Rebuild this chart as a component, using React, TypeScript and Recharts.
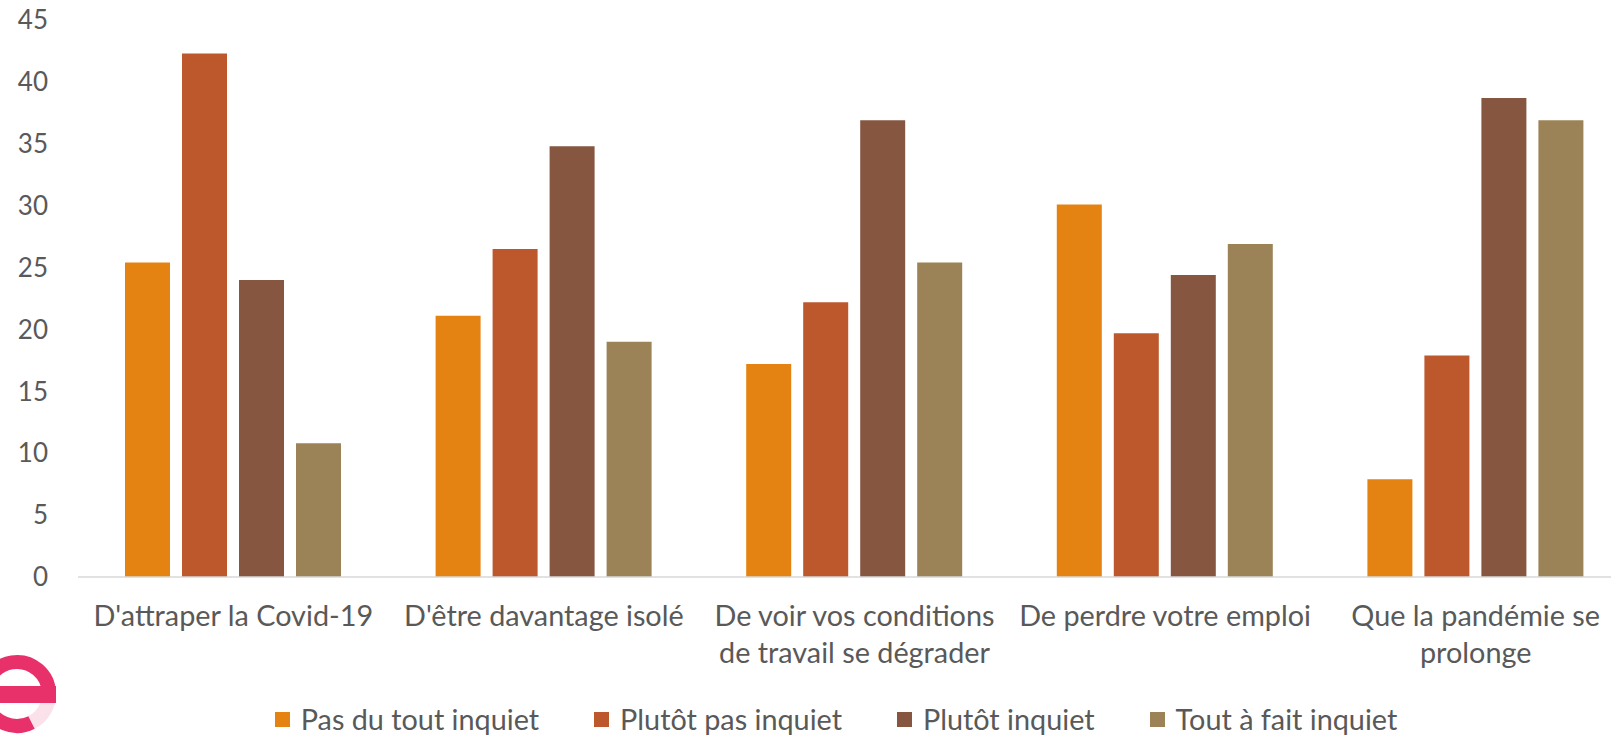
import { Bar, BarChart, Legend, XAxis, YAxis } from "recharts";

const categories = [
  "D'attraper la Covid-19",
  "D'être davantage isolé",
  "De voir vos conditions\nde travail se dégrader",
  "De perdre votre emploi",
  "Que la pandémie se\nprolonge",
];

const pasDuTout = [25.4, 21.1, 17.2, 30.1, 7.9];
const plutotPas = [42.3, 26.5, 22.2, 19.7, 17.9];
const plutot = [24.0, 34.8, 36.9, 24.4, 38.7];
const toutAFait = [10.8, 19.0, 25.4, 26.9, 36.9];

const yTicks = [0, 5, 10, 15, 20, 25, 30, 35, 40, 45];

const series = [
  { key: "pasDuTout", name: "Pas du tout inquiet", color: "#E48312" },
  { key: "plutotPas", name: "Plutôt pas inquiet", color: "#BD582C" },
  { key: "plutot", name: "Plutôt inquiet", color: "#865640" },
  { key: "toutAFait", name: "Tout à fait inquiet", color: "#9B8357" },
];

const data = categories.map((label, i) => ({
  label,
  pasDuTout: pasDuTout[i],
  plutotPas: plutotPas[i],
  plutot: plutot[i],
  toutAFait: toutAFait[i],
}));

const FONT = "Lato, 'Open Sans', sans-serif";
const TEXT = "#595959";

function CategoryTick({ x, y, payload }: any) {
  const lines = String(payload.value).split("\n");
  return (
    <text x={x} y={y} textAnchor="middle" fill={TEXT} fontSize={28.8} fontFamily={FONT}>
      {lines.map((line, i) => (
        <tspan key={i} x={x} dy={i === 0 ? 49 : 37}>
          {line}
        </tspan>
      ))}
    </text>
  );
}

function LegendContent() {
  return (
    <div
      style={{
        display: "flex",
        justifyContent: "center",
        gap: 55,
        paddingLeft: 32,
        paddingTop: 25,
        fontFamily: FONT,
        fontSize: 28.8,
        color: TEXT,
      }}
    >
      {series.map((s) => (
        <div key={s.key} style={{ display: "flex", alignItems: "center", gap: 11 }}>
          <span style={{ width: 15, height: 15, background: s.color, display: "inline-block" }} />
          <span>{s.name}</span>
        </div>
      ))}
    </div>
  );
}

// logo "e" in the bottom-left corner, partly cut by the frame
function Logo() {
  const cx = 17;
  const cy = 694;
  const r = 32;
  const pt = (deg: number) => {
    const a = (deg * Math.PI) / 180;
    return `${cx + r * Math.cos(a)} ${cy + r * Math.sin(a)}`;
  };
  return (
    <svg width={80} height={100} viewBox="0 636 80 100" style={{ position: "absolute", left: 0, top: 636 }}>
      <path d={`M ${pt(0)} A ${r} ${r} 0 0 1 ${pt(63)}`} stroke="#FBE1E9" strokeWidth={14} fill="none" />
      <path d={`M ${pt(63)} A ${r} ${r} 0 1 1 ${pt(360)}`} stroke="#E8306A" strokeWidth={14} fill="none" />
      <rect x={0} y={686} width={56} height={17} fill="#E8306A" />
    </svg>
  );
}

export default function App() {
  return (
    <div style={{ position: "fixed", left: 0, top: 0, width: 1611, height: 736, overflow: "hidden", background: "#fff" }}>
      <BarChart
        width={1640}
        height={736}
        data={data}
        margin={{ top: 20, right: 9, left: 0, bottom: 0 }}
        barSize={45}
        barGap={12}
      >
        <XAxis
          dataKey="label"
          interval={0}
          tickLine={false}
          tickSize={0}
          tickMargin={0}
          axisLine={{ stroke: "#D9D9D9", strokeWidth: 1.5 }}
          tick={<CategoryTick />}
          height={100}
        />
        <YAxis
          domain={[0, 45]}
          ticks={yTicks}
          interval={0}
          axisLine={false}
          tickLine={false}
          tickSize={0}
          tickMargin={30}
          width={78}
          tick={{ fill: TEXT, fontSize: 26, fontFamily: FONT }}
        />
        <Legend verticalAlign="bottom" height={59} content={<LegendContent />} wrapperStyle={{ left: 0, width: 1640 }} />
        {series.map((s) => (
          <Bar key={s.key} dataKey={s.key} name={s.name} fill={s.color} isAnimationActive={false} />
        ))}
      </BarChart>
      <Logo />
    </div>
  );
}
